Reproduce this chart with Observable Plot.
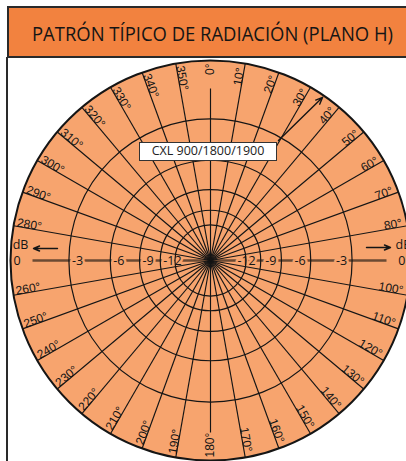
<!DOCTYPE html>
<html><head><meta charset="utf-8">
<script src="https://cdn.jsdelivr.net/npm/d3@7"></script>
<script src="https://cdn.jsdelivr.net/npm/@observablehq/plot@0.6"></script>
<style>
html,body{margin:0;padding:0;background:#fff;width:406px;height:461px;overflow:hidden;position:relative}
#hdr{position:absolute;left:7px;top:6px;width:412px;height:52px;background:#F2823F;border:2px solid #2a2a2a;box-sizing:border-box;}
#title{position:absolute;left:0;top:12px;white-space:nowrap;font-family:"Open Sans",sans-serif;font-size:20px;color:#151515;transform-origin:0 0;}
#frame{position:absolute;left:6px;top:57px;width:2px;height:404px;background:#2a2a2a}
#chart{position:absolute;left:0;top:58px}
#box{position:absolute;left:139px;top:142px;width:138px;height:19px;box-sizing:border-box;border:1.5px solid #333;background:#fff;font-family:"Open Sans",sans-serif;font-size:12.5px;line-height:16px;text-align:center;color:#222}
</style>
</head><body>
<div id="hdr"><div id="title"></div></div>
<div id="chart"></div>
<div id="frame"></div>
<div id="box"></div>
<script>
// ---- data ----
const TITLE = "PATRÓN TÍPICO DE RADIACIÓN (PLANO H)";
const MODEL = "CXL 900/1800/1900";
const RINGS_DB = [-3, -6, -9, -12, -15];
const OUTER_DB = 0;
const RING_LABEL_DB = [0, -3, -6, -9, -12];
const RING_LABELS = ["0", "-3", "-6", "-9", "-12"];
const SPOKE_ANGLES = [0,10,20,30,40,50,60,70,80,100,110,120,130,140,150,160,170,180,190,200,210,220,230,240,250,260,280,290,300,310,320,330,340,350];
const RIGHT_ANGLES = [10,20,30,40,50,60,70,80,100,110,120,130,140,150,160,170];
const LEFT_ANGLES = [190,200,210,220,230,240,250,260,280,290,300,310,320,330,340,350];
const TOP_ANGLES = [0];
const BOTTOM_ANGLES = [180];
const SHORT_SPOKES = [0, 180];
const POINTER = {a1: 29.5, r1: 0.69, a2: 34.5, r2: 0.99};
const DB_ARROWS = [{x1: -0.765, x2: -0.885, y: 0.06}, {x1: 0.78, x2: 0.9, y: 0.065}];
const DB_TEXTS = [{x: -0.95, y: 0.08, anchor: "middle"}, {x: 0.925, y: 0.08, anchor: "start"}];
const AXIS_SPAN = [-0.89, 0.88];

// ---- helpers ----
const amp = db => Math.pow(10, db / 20);
const rad = a => a * Math.PI / 180;
const px = (a, r) => r * Math.sin(rad(a));
const py = (a, r) => r * Math.cos(rad(a));
const FILL = "#F7A46E";
const INK = "#151515";

document.getElementById("title").textContent = TITLE;
document.getElementById("box").textContent = MODEL;

const chart = Plot.plot({
  width: 406, height: 403, margin: 0,
  style: {background: "transparent", fontFamily: "'Open Sans', sans-serif", overflow: "visible"},
  x: {domain: [-1.05, 0.98], axis: null},
  y: {domain: [-1.005, 1.01], axis: null},
  r: {type: "linear", domain: [0, 1], range: [0, 200]},
  marks: [
    Plot.dot([OUTER_DB], {x: () => 0, y: () => 0, r: d => amp(d), fill: FILL, stroke: "none"}),
    Plot.link([AXIS_SPAN], {x1: d => d[0], x2: d => d[1], y1: () => 0, y2: () => 0, stroke: "#6b4a33", strokeWidth: 2.6}),
    Plot.text(RING_LABEL_DB, {x: d => -amp(d), y: () => 0, text: (d, i) => RING_LABELS[i], textAnchor: "start", dx: 3, fill: INK, stroke: FILL, strokeWidth: 5, fontSize: 12.5}),
    Plot.text(RING_LABEL_DB, {x: d => amp(d), y: () => 0, text: (d, i) => RING_LABELS[i], textAnchor: "end", dx: -5, fill: INK, stroke: FILL, strokeWidth: 5, fontSize: 12.5}),
    Plot.dot(RINGS_DB, {x: () => 0, y: () => 0, r: d => amp(d), fill: "none", stroke: INK, strokeWidth: 1.2}),
    Plot.link(SPOKE_ANGLES, {x1: () => 0, y1: () => 0,
      x2: a => px(a, SHORT_SPOKES.includes(a) ? 0.86 : 1), y2: a => py(a, SHORT_SPOKES.includes(a) ? 0.86 : 1),
      stroke: INK, strokeWidth: 1.15}),
    Plot.dot([OUTER_DB], {x: () => 0, y: () => 0, r: d => amp(d), fill: "none", stroke: INK, strokeWidth: 2}),
    Plot.text(RIGHT_ANGLES, {x: a => px(a, 0.975), y: a => py(a, 0.975), rotate: a => a - 90, text: a => a + "°", textAnchor: "end", lineAnchor: "bottom", fontFamily: "'Liberation Sans', Arial, sans-serif", fontSize: 12, fill: INK}),
    Plot.text(LEFT_ANGLES, {x: a => px(a, 0.985), y: a => py(a, 0.985), rotate: a => a - 270, text: a => a + "°", textAnchor: "start", lineAnchor: "bottom", fontFamily: "'Liberation Sans', Arial, sans-serif", fontSize: 12, fill: INK}),
    Plot.text(TOP_ANGLES, {x: a => px(a, 0.985), y: a => py(a, 0.985), rotate: () => -90, text: a => a + "°", textAnchor: "end", lineAnchor: "middle", fontFamily: "'Liberation Sans', Arial, sans-serif", fontSize: 12, fill: INK}),
    Plot.text(BOTTOM_ANGLES, {x: a => px(a, 0.985), y: a => py(a, 0.985), rotate: () => -90, text: a => a + "°", textAnchor: "start", lineAnchor: "middle", fontFamily: "'Liberation Sans', Arial, sans-serif", fontSize: 12, fill: INK}),
    Plot.arrow([POINTER], {x1: d => px(d.a1, d.r1), y1: d => py(d.a1, d.r1), x2: d => px(d.a2, d.r2), y2: d => py(d.a2, d.r2), stroke: INK, strokeWidth: 1.4, headLength: 8, headAngle: 45}),
    Plot.arrow(DB_ARROWS, {x1: "x1", x2: "x2", y1: "y", y2: "y", stroke: INK, strokeWidth: 1.4, headLength: 7, headAngle: 45}),
    Plot.text(DB_TEXTS.slice(0, 1), {x: "x", y: "y", text: () => "dB", textAnchor: "middle", fontSize: 12.5, fill: INK}),
    Plot.text(DB_TEXTS.slice(1), {x: "x", y: "y", text: () => "dB", textAnchor: "start", fontSize: 12.5, fill: INK})
  ]
});
document.getElementById("chart").appendChild(chart);

// fit title width to header text span
const t = document.getElementById("title");
const w = t.getBoundingClientRect().width;
const target = 361;
const s = target / w;
t.style.transform = `scaleX(${s})`;
t.style.left = (32 - 7 - 2) + "px";
</script>
</body></html>
